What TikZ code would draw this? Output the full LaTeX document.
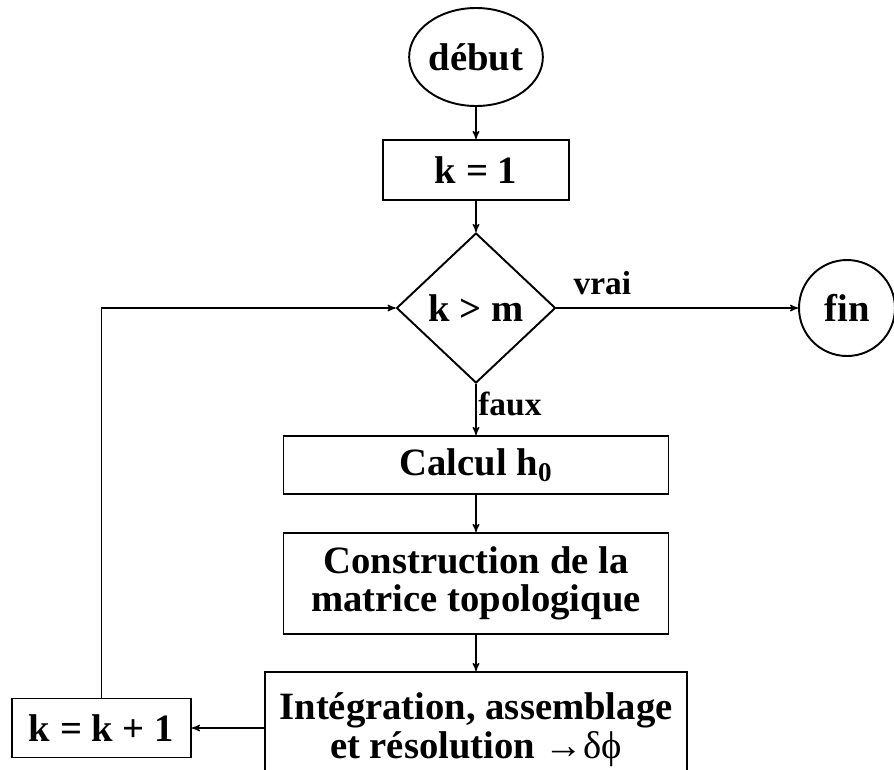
\documentclass[tikz,border=0pt]{standalone}
\usepackage{fontspec}
\setmainfont{Liberation Serif}
\usetikzlibrary{arrows,shapes.geometric}

\begin{document}
\begin{tikzpicture}[->,>=stealth',line width=0.7pt,node distance=2cm,font=\bfseries\fontsize{22}{21.5}\selectfont]
\tikzstyle{bloc}=[shape=rectangle,draw=black,line width=1.1pt,align=center,inner sep=0pt]
\tikzstyle{rond}=[draw=black,line width=1.1pt,inner sep=0pt]
\tikzstyle{etiq}=[font=\bfseries\fontsize{19}{20}\selectfont,inner sep=1pt]
\useasboundingbox (-9.52,1.14) rectangle (8.36,-14.24);
\node[rond,shape=ellipse,minimum width=2.42cm,minimum height=1.96cm] (debut) {début};
\node[bloc,minimum width=3.72cm,minimum height=1.2cm] (k1) [below of=debut,node distance=2.26cm] {k = 1};
\node[rond,shape=diamond,minimum width=3.18cm,minimum height=3cm] (test) [below of=k1,node distance=2.76cm] {k > m};
\node[rond,shape=circle,minimum size=1.92cm] (fin) [right of=test,node distance=7.42cm] {fin};
\node[bloc,minimum width=7.7cm,minimum height=1.16cm] (calc) [below of=test,node distance=3.14cm] {Calcul h\textsubscript{0}};
\node[bloc,minimum width=7.7cm,minimum height=2.02cm] (constr) [below of=calc,node distance=2.37cm] {Construction de la\\matrice topologique};
\node[bloc,minimum width=8.44cm,minimum height=2.3cm] (integ) [below of=constr,node distance=2.92cm] {Intégration, assemblage\\[1pt]et résolution {\mdseries →δϕ}};
\node[bloc,minimum width=3.58cm,minimum height=1.18cm] (kk) [left of=integ,node distance=7.49cm,yshift=0.03cm] {k = k + 1};
\path (debut) edge (k1)
	(k1) edge (test)
	(test) edge node[etiq,pos=0.19,above=6pt] (vrai) {vrai} (fin)
	(test) edge node[etiq,pos=0.39,right] (faux) {faux} (calc)
	(calc) edge (constr)
	(constr) edge (integ)
	(integ.west |- kk) edge (kk);
\draw (kk) |- (test);
\end{tikzpicture}
\end{document}
